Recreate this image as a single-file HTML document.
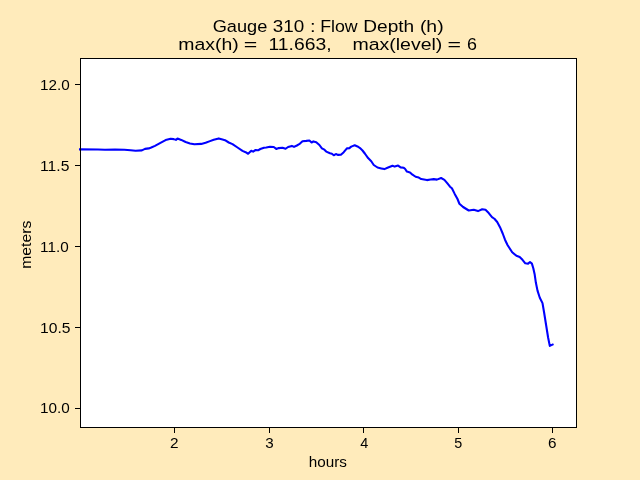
<!DOCTYPE html>
<html><head><meta charset="utf-8"><style>
html,body{margin:0;padding:0;background:#FFEBBB;width:640px;height:480px;overflow:hidden}
svg{display:block;will-change:transform}
text{font-family:"Liberation Sans",sans-serif;fill:#000}
</style></head><body>
<svg width="640" height="480" viewBox="0 0 640 480">
<rect x="0" y="0" width="640" height="480" fill="#FFEBBB"/>
<rect x="81" y="59" width="495" height="368" fill="#fff"/>
<path d="M80,149.4 L98,149.5 L105,149.7 L115,149.6 L124.4,149.75 L130.6,150.2 L135.6,150.7 L141.9,150.4 L145,148.9 L148.75,148.4 L151.25,147.5 L155,145.9 L160,143.1 L165.6,140.1 L170.6,138.75 L173.75,139.1 L175.9,139.9 L177.5,138.6 L181.25,139.9 L185.6,142 L190,143.4 L194.4,144.25 L201.25,143.9 L205.6,142.8 L210,141.1 L213.75,139.7 L218.75,138.4 L222.5,139.5 L225,140.2 L228.75,142.5 L232.5,144.1 L237.5,147.5 L242.5,150.9 L245.6,152.2 L248.1,153.75 L251.25,150.75 L253.1,151.6 L255.6,150 L258.1,150.3 L260.3,149 L264,147.8 L266.25,147.5 L270,146.75 L273.75,147 L276.25,148.9 L278.75,148.1 L282.5,147.8 L285.6,148.75 L288.1,147 L291.9,145.9 L294,146.9 L296.9,145.5 L298.75,144.4 L300,143.6 L302.5,141.25 L306.25,140.9 L309.4,140.5 L311.6,142.5 L313.4,141.4 L316.25,142.2 L319.4,145 L321.9,148.4 L324.4,149.7 L326.25,151.6 L330,153.3 L331.9,153.75 L333.75,155.2 L335.9,154.1 L338.1,154.9 L340.9,154.7 L343.75,152.2 L346.9,148.4 L349.4,148.1 L351.25,146.6 L354.7,145.3 L358.1,146.75 L360,148.1 L362.5,150.5 L365,153.75 L368.1,158.1 L371.25,161.25 L373.75,165 L377.5,167.5 L381.25,168.4 L384.4,169.1 L387.5,167.8 L390,166.75 L392.5,165.75 L394.7,166.6 L398.1,165.6 L400.6,167.4 L403.75,167.8 L405,168.75 L406.9,171.6 L410,172.4 L412.5,174.7 L415.6,176.75 L418.75,177.6 L421.25,179.1 L426.9,180.1 L430.6,179.5 L433.75,179.1 L436.9,179.6 L441.1,178 L444.4,179.8 L447.2,183.1 L450,186.7 L451.9,188.3 L454.7,193.9 L457.5,199 L459.4,203.75 L463.1,207 L468.75,210.5 L473.75,209.8 L478,211.1 L482.2,209.2 L485.5,209.8 L488.75,213.1 L492,217.1 L494.4,218.75 L497.2,222 L500,227.2 L502.8,233.75 L505,239.7 L507.5,245 L512.2,252.3 L516.4,255.8 L519.7,257 L522.5,259.8 L525.3,263.3 L528.1,263.6 L530,262 L531.9,263.6 L533.3,268.3 L534.7,274.6 L535.9,282.8 L537.5,290.6 L539.8,297.7 L542.5,303.1 L544.1,312.5 L546.1,325 L548.1,337.5 L549.8,345.9 L552.6,344.6" fill="none" stroke="#0000ff" stroke-width="2.08" stroke-linejoin="round" stroke-linecap="square"/>
<g fill="#000" shape-rendering="crispEdges">
<rect x="174" y="428" width="1" height="5"/>
<rect x="269" y="428" width="1" height="5"/>
<rect x="363" y="428" width="1" height="5"/>
<rect x="458" y="428" width="1" height="5"/>
<rect x="552" y="428" width="1" height="5"/>
<rect x="75" y="84" width="5" height="1"/>
<rect x="75" y="165" width="5" height="1"/>
<rect x="75" y="246" width="5" height="1"/>
<rect x="75" y="327" width="5" height="1"/>
<rect x="75" y="408" width="5" height="1"/>
<rect x="80" y="58" width="497" height="1"/>
<rect x="80" y="427" width="497" height="1"/>
<rect x="80" y="58" width="1" height="370"/>
<rect x="576" y="58" width="1" height="370"/>
</g>
<text transform="translate(212.69,31.50) scale(1.0456,1)" font-size="17.4">Gauge</text>
<text transform="translate(272.78,31.50) scale(1.0835,1)" font-size="17.4">310</text>
<text transform="translate(310.12,31.50) scale(1.1500,1)" font-size="17.4">:</text>
<text transform="translate(320.14,31.50) scale(1.0212,1)" font-size="17.4">Flow</text>
<text transform="translate(363.34,31.50) scale(1.0963,1)" font-size="17.4">Depth</text>
<text transform="translate(419.90,31.50) scale(1.1147,1)" font-size="17.4">(h)</text>
<text transform="translate(178.21,49.90) scale(1.1175,1)" font-size="17.4">max(h)</text>
<text transform="translate(243.87,49.90) scale(1.3308,1)" font-size="17.4">=</text>
<text transform="translate(268.53,49.90) scale(1.1103,1)" font-size="17.4">11.663,</text>
<text transform="translate(352.45,49.90) scale(1.1216,1)" font-size="17.4">max(level)</text>
<text transform="translate(447.62,49.90) scale(1.3308,1)" font-size="17.4">=</text>
<text transform="translate(467.09,49.90) scale(1.0275,1)" font-size="17.4">6</text>
<text transform="translate(40.09,413.00) scale(1.0403,1)" font-size="14.7">10.0</text>
<text transform="translate(40.06,333.00) scale(1.0661,1)" font-size="14.7">10.5</text>
<text transform="translate(40.09,252.00) scale(1.0403,1)" font-size="14.7">11.0</text>
<text transform="translate(40.06,171.00) scale(1.0661,1)" font-size="14.7">11.5</text>
<text transform="translate(40.09,90.00) scale(1.0403,1)" font-size="14.7">12.0</text>
<text transform="translate(169.93,448.00) scale(1.0453,1)" font-size="14.7">2</text>
<text transform="translate(265.32,448.00) scale(1.0331,1)" font-size="14.7">3</text>
<text transform="translate(360.37,448.00) scale(0.9855,1)" font-size="14.7">4</text>
<text transform="translate(454.33,448.00) scale(0.9757,1)" font-size="14.7">5</text>
<text transform="translate(548.07,448.00) scale(1.0394,1)" font-size="14.7">6</text>
<text transform="translate(308.74,466.70) scale(1.0391,1)" font-size="14.7">hours</text>
<text transform="translate(31.1,268.85) rotate(-90) scale(1.0721,1)" font-size="14.7">meters</text>
</svg>
</body></html>
